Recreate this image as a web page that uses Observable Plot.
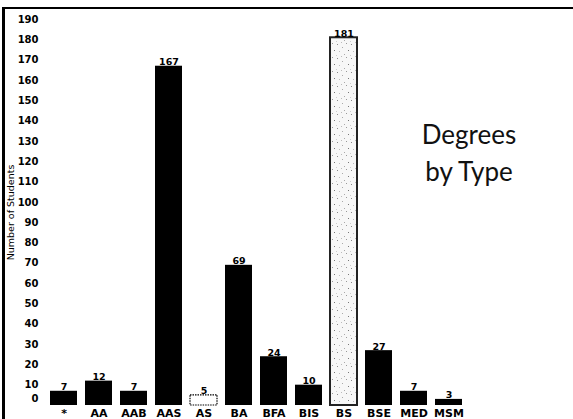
<!DOCTYPE html>
<html>
<head>
<meta charset="utf-8">
<script src="https://cdn.jsdelivr.net/npm/d3@7"></script>
<script src="https://cdn.jsdelivr.net/npm/@observablehq/plot@0.6"></script>
<style>
  html, body { margin: 0; padding: 0; background: #fff; }
  #wrap { position: relative; width: 573px; height: 419px; overflow: hidden; }
  #frame { position: absolute; left: 2px; top: 7px; width: 569px; height: 420px;
           border-top: 2.5px solid #000; border-left: 3px solid #000; border-right: 1px dashed #bbb; }
  #title { position: absolute; left: 397px; width: 144px; top: 116px; text-align: center;
           font-family: Lato, "Open Sans", sans-serif; font-size: 26px; line-height: 37px; color: #111; }
  svg { position: absolute; left: 0; top: 0; }
</style>
</head>
<body>
<div id="wrap">
  <div id="frame"></div>
  <div id="title">Degrees<br>by Type</div>
</div>
<script>
const categories = ["*", "AA", "AAB", "AAS", "AS", "BA", "BFA", "BIS", "BS", "BSE", "MED", "MSM"];
const values = [7, 12, 7, 167, 5, 69, 24, 10, 181, 27, 7, 3];
const yTicks = d3.range(10, 191, 10);
const yLabel = "Number of Students";

const data = categories.map((c, i) => ({type: c, n: values[i]}));
const solid = data.filter(d => d.type !== "AS" && d.type !== "BS");
const hollow = data.filter(d => d.type === "AS");
const dotted = data.filter(d => d.type === "BS");

const font = "'DejaVu Sans', sans-serif";

const chart = Plot.plot({
  width: 573,
  height: 419,
  marginLeft: 46,
  marginRight: 106,
  marginTop: 19,
  marginBottom: 14,
  style: {fontFamily: font, fontSize: "10px", fontWeight: "bold", background: "transparent", overflow: "visible"},
  x: {domain: categories, paddingInner: 0.215, paddingOuter: 0},
  y: {domain: [0, 190]},
  marks: [
    Plot.barY(solid, {x: "type", y: "n", fill: "black"}),
    Plot.barY(hollow, {x: "type", y: "n", fill: "white", stroke: "black", strokeWidth: 1.2, strokeDasharray: "1.5,1"}),
    Plot.barY(dotted, {x: "type", y: "n", fill: "url(#stipple)", stroke: "#222", strokeWidth: 2}),
    Plot.text(data, {x: "type", y: "n", text: d => String(d.n), lineAnchor: "bottom", dy: -1, fontWeight: "bold", fontSize: 9.5, fill: "black"}),
    Plot.axisX({tickSize: 0, tickPadding: 4, label: null, fontWeight: "bold", fontSize: 11}),
    Plot.axisY(yTicks, {tickSize: 0, tickPadding: 8, label: yLabel, labelAnchor: "center", labelArrow: "none", labelOffset: 39, fontWeight: "bold", fontSize: 10}),
    Plot.axisY([0], {tickSize: 0, tickPadding: 8, label: null, dy: -7, fontWeight: "bold", fontSize: 10})
  ]
});

// stipple pattern for the BS bar
const ns = "http://www.w3.org/2000/svg";
const defs = document.createElementNS(ns, "defs");
const pat = document.createElementNS(ns, "pattern");
pat.setAttribute("id", "stipple");
pat.setAttribute("patternUnits", "userSpaceOnUse");
pat.setAttribute("width", "14");
pat.setAttribute("height", "14");
const bg = document.createElementNS(ns, "rect");
bg.setAttribute("width", "14"); bg.setAttribute("height", "14"); bg.setAttribute("fill", "#f7f7f7");
pat.appendChild(bg);
[[1,2,"#888"],[6,5,"#aaa"],[10,1,"#999"],[3,9,"#bbb"],[12,8,"#777"],[8,12,"#aaa"],[0,13,"#ccc"],[5,0,"#bbb"]].forEach(([x, y, c]) => {
  const r = document.createElementNS(ns, "rect");
  r.setAttribute("x", x); r.setAttribute("y", y); r.setAttribute("width", "1"); r.setAttribute("height", "1"); r.setAttribute("fill", c);
  pat.appendChild(r);
});
defs.appendChild(pat);
chart.insertBefore(defs, chart.firstChild);

// y label is regular weight
chart.querySelectorAll("[aria-label='y-axis label']").forEach(el => {
  el.setAttribute("font-weight", "normal");
  el.setAttribute("font-size", "9.5");
});

document.getElementById("wrap").appendChild(chart);
</script>
</body>
</html>
